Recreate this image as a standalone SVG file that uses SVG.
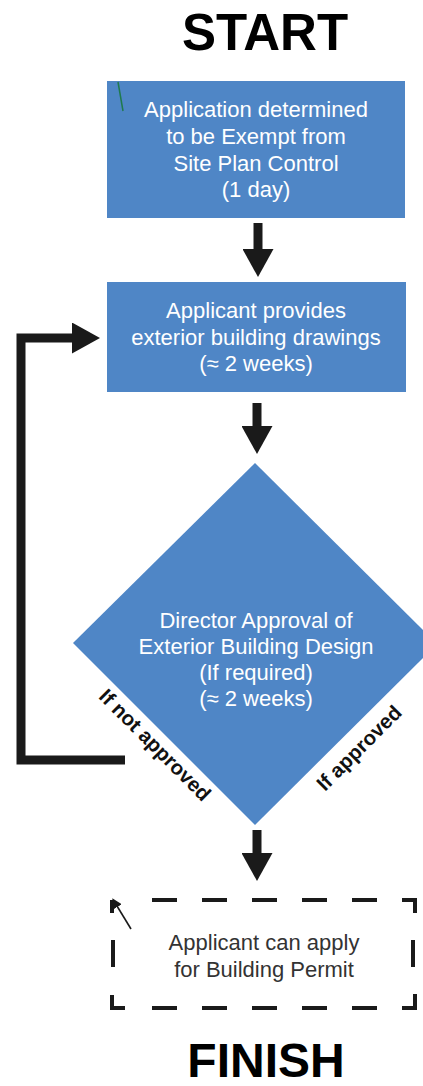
<svg xmlns="http://www.w3.org/2000/svg" width="423" height="1086" viewBox="0 0 423 1086">
  <style>
    .title { font-family: "Liberation Sans", Arial, sans-serif; font-weight: bold; fill: #000; text-anchor: middle; }
    .box { fill: #4f86c6; }
    .wt { font-family: "Liberation Sans", Arial, sans-serif; font-size: 22px; fill: #ffffff; text-anchor: middle; }
    .lbl { font-family: "Liberation Sans", Arial, sans-serif; font-size: 20.5px; font-weight: bold; fill: #111; text-anchor: middle; }
    .dk { font-family: "Liberation Sans", Arial, sans-serif; font-size: 22px; fill: #333; text-anchor: middle; }
    .conn { fill: none; stroke: #1a1a1a; stroke-width: 9; marker-end: url(#ah); }
    .dash { fill: none; stroke: #1a1a1a; stroke-width: 4; }
  </style>
  <defs>
    <marker id="ah" markerUnits="userSpaceOnUse" viewBox="0 0 28 31" markerWidth="28" markerHeight="31" refX="0" refY="15.5" orient="auto">
      <path d="M0,0 L28,15.5 L0,31 Z" fill="#1a1a1a"/>
    </marker>
    <marker id="sah" markerUnits="userSpaceOnUse" viewBox="0 0 10 10" markerWidth="10" markerHeight="10" refX="1" refY="5" orient="auto">
      <path d="M0,0 L10,5 L0,10 Z" fill="#1a1a1a"/>
    </marker>
  </defs>

  <text class="title" x="265" y="50" font-size="51">START</text>

  <g id="node-exempt">
    <rect class="box" x="107" y="81" width="298" height="137"/>
    <line x1="118" y1="82" x2="123" y2="111" stroke="#1f7a4d" stroke-width="1.5"/>
    <text class="wt" x="256" y="117">Application determined</text>
    <text class="wt" x="256" y="144">to be Exempt from</text>
    <text class="wt" x="256" y="171">Site Plan Control</text>
    <text class="wt" x="256" y="197">(1 day)</text>
  </g>

  <g id="node-drawings">
    <rect class="box" x="107" y="282" width="299" height="110"/>
    <text class="wt" x="256" y="318">Applicant provides</text>
    <text class="wt" x="256" y="345">exterior building drawings</text>
    <text class="wt" x="256" y="371">(≈ 2 weeks)</text>
  </g>

  <g id="node-approval">
    <polygon class="box" points="255,463 437,644 255,825 73,643"/>
    <text class="wt" x="256" y="628">Director Approval of</text>
    <text class="wt" x="256" y="654">Exterior Building Design</text>
    <text class="wt" x="256" y="680">(If required)</text>
    <text class="wt" x="256" y="706">(≈ 2 weeks)</text>
  </g>

  <g id="node-permit">
    <path class="dash" d="M112,900 V913 M402,900 H415 V913 M112,995 V1008 H125 M402,1008 H415 V994"/>
    <path class="dash" d="M152,900 H177 M202,900 H227 M252,900 H277 M302,900 H327 M352,900 H377"/>
    <path class="dash" d="M152,1008 H177 M202,1008 H227 M252,1008 H277 M302,1008 H327 M352,1008 H377"/>
    <path class="dash" d="M113,940 V967 M413,940 V967"/>
    <line x1="131" y1="929" x2="117" y2="906" stroke="#1a1a1a" stroke-width="1.6" marker-end="url(#sah)"/>
    <text class="dk" x="264" y="950">Applicant can apply</text>
    <text class="dk" x="264" y="977">for Building Permit</text>
  </g>

  <g id="connectors">
    <path class="conn" d="M258,223 V249"/>
    <path class="conn" d="M257,403 V426"/>
    <path class="conn" d="M257,830 V853"/>
    <path class="conn" d="M125,760 H21 V338 H72"/>
    <text class="lbl" transform="translate(155,745) rotate(45)" y="7">If not approved</text>
    <text class="lbl" transform="translate(359,748) rotate(-45)" y="7">If approved</text>
  </g>

  <text class="title" x="266" y="1077" font-size="48">FINISH</text>
</svg>
